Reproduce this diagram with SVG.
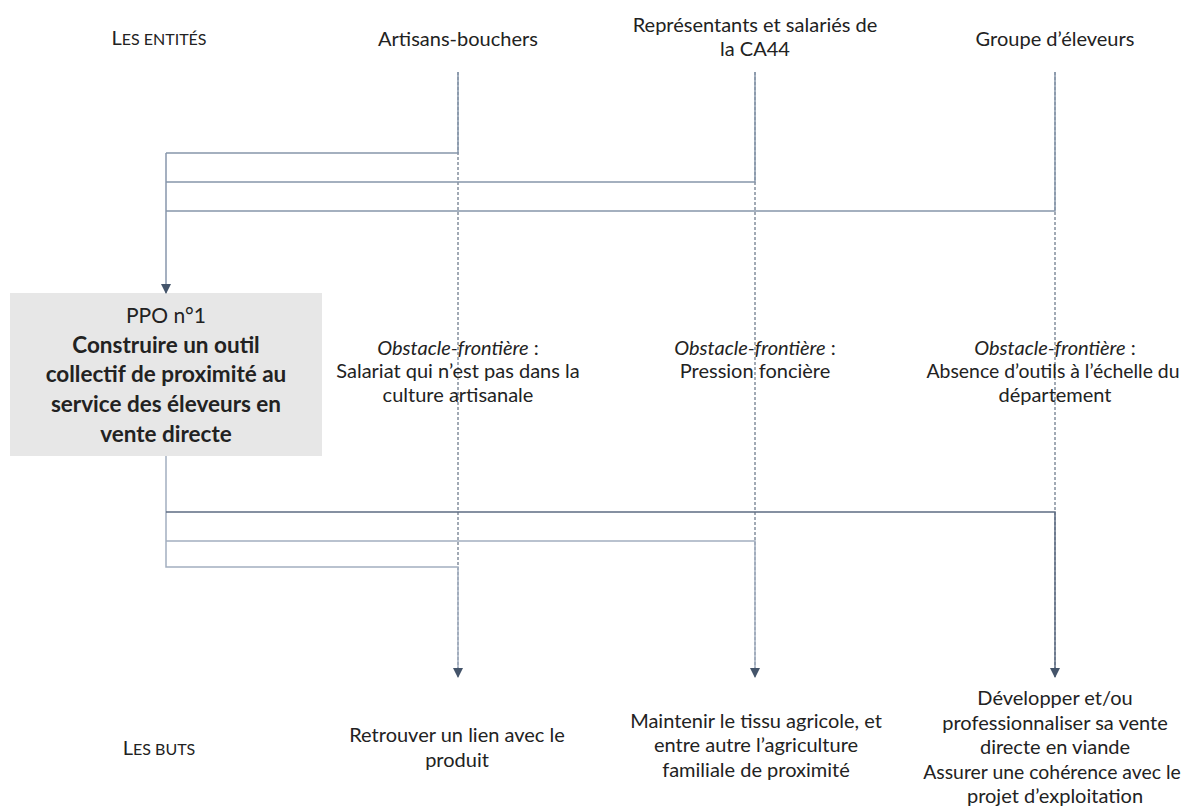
<svg xmlns="http://www.w3.org/2000/svg" width="1185" height="807" viewBox="0 0 1185 807">
<style>
text{font-family:Lato,"Open Sans","Liberation Sans",sans-serif;font-size:20px;fill:#222222;text-anchor:middle}
.b{font-weight:bold;font-size:22.5px}
.p{font-size:21px}
.i{font-style:italic}
.sc{font-size:16px}
.n{font-size:19.4px}
.guide{stroke:#44546a;stroke-width:1;stroke-dasharray:3 2;fill:none}
.c1{stroke:#a3afc0;stroke-width:1.5;fill:none}
.c2{stroke:#8796ab;stroke-width:1.5;fill:none}
.c3{stroke:#5d6c82;stroke-width:1.5;fill:none}
</style>
<defs>
<marker id="ah" markerWidth="10" markerHeight="10" refX="9" refY="5" orient="auto" markerUnits="userSpaceOnUse">
<path d="M0,0 L10,5 L0,10 Z" fill="#44546a"/>
</marker>
</defs>
<rect width="1185" height="807" fill="#ffffff"/>

<g id="labels">
<text x="159" y="45">L<tspan class="sc">ES ENTITÉS</tspan></text>
<text x="159" y="755">L<tspan class="sc">ES BUTS</tspan></text>
</g>

<g id="entity-artisans"><text x="458" y="46">Artisans-bouchers</text></g>
<g id="entity-ca44"><text x="755" y="32">Représentants et salariés de</text><text x="755" y="56">la CA44</text></g>
<g id="entity-eleveurs"><text x="1055" y="46">Groupe d’éleveurs</text></g>

<g id="ppo">
<rect x="10" y="293" width="312" height="163" fill="#e7e7e7"/>
<text class="p" x="166" y="323">PPO n°1</text>
<text class="b" x="166" y="353">Construire un outil</text>
<text class="b" x="166" y="382">collectif de proximité au</text>
<text class="b" x="166" y="412">service des éleveurs en</text>
<text class="b" x="166" y="442">vente directe</text>
</g>

<g id="connectors">
<line class="guide" x1="458" y1="72" x2="458" y2="668"/>
<line class="guide" x1="755" y1="72" x2="755" y2="668"/>
<line class="guide" x1="1055" y1="72" x2="1055" y2="668"/>
<path class="c2" d="M458,72 V153 H166"/>
<path class="c2" d="M755,72 V182 H166"/>
<path class="c2" d="M1055,72 V211 H166"/>
<path class="c2" d="M166,153 V293" marker-end="url(#ah)"/>
<path class="c1" d="M166,456 V567 H458 V677" marker-end="url(#ah)"/>
<path class="c1" d="M166,541 H755 V677" marker-end="url(#ah)"/>
<path class="c3" d="M166,512 H1055 V677" marker-end="url(#ah)"/>
</g>

<g id="obstacle-artisans">
<text x="458" y="355"><tspan class="i">Obstacle-frontière</tspan> :</text>
<text x="458" y="378">Salariat qui n’est pas dans la</text>
<text x="458" y="402">culture artisanale</text>
</g>
<g id="obstacle-ca44">
<text x="755" y="355"><tspan class="i">Obstacle-frontière</tspan> :</text>
<text x="755" y="378">Pression foncière</text>
</g>
<g id="obstacle-eleveurs">
<text x="1055" y="355"><tspan class="i">Obstacle-frontière</tspan> :</text>
<text class="n" x="1053" y="378">Absence d’outils à l’échelle du</text>
<text x="1055" y="402">département</text>
</g>

<g id="but-artisans">
<text x="457" y="742">Retrouver un lien avec le</text>
<text x="457" y="767">produit</text>
</g>
<g id="but-ca44">
<text x="756" y="728">Maintenir le tissu agricole, et</text>
<text x="756" y="752">entre autre l’agriculture</text>
<text x="756" y="777">familiale de proximité</text>
</g>
<g id="but-eleveurs">
<text x="1055" y="705">Développer et/ou</text>
<text x="1055" y="730">professionnaliser sa vente</text>
<text x="1055" y="754">directe en viande</text>
<text class="n" x="1052" y="779">Assurer une cohérence avec le</text>
<text x="1055" y="803">projet d’exploitation</text>
</g>
</svg>
